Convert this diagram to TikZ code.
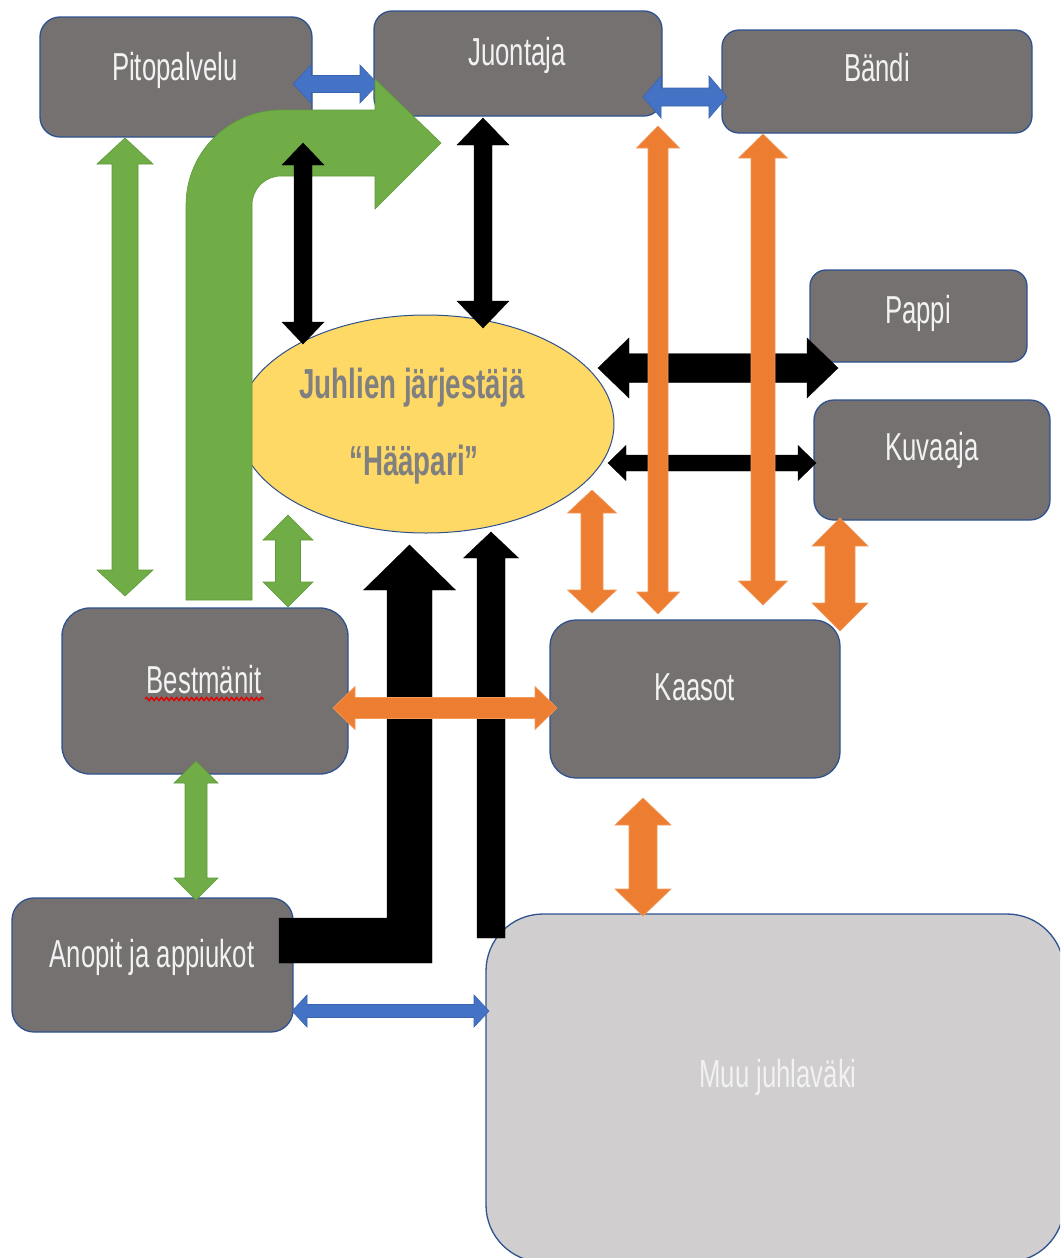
\documentclass[tikz,border=0pt]{standalone}
\usepackage{fontspec}
\newfontfamily\lblfont[FakeStretch=0.66]{Liberation Sans}
\usetikzlibrary{calc,shapes.geometric,decorations.pathmorphing}

\definecolor{boxfill}{HTML}{767171}
\definecolor{boxline}{HTML}{2F528F}
\definecolor{crowd}{HTML}{D0CECE}
\definecolor{hostfill}{HTML}{FFD966}
\definecolor{hosttext}{HTML}{808080}
\definecolor{labeltext}{HTML}{F2F2F2}
\definecolor{grn}{HTML}{70AD47}
\definecolor{grnedge}{HTML}{5E9A3A}
\definecolor{org}{HTML}{ED7D31}
\definecolor{orgedge}{HTML}{F09A5E}
\definecolor{blu}{HTML}{4472C4}
\definecolor{bluedge}{HTML}{3A64B0}

% double-headed block arrow: style, end A, end B, half shaft, half head, head length
\newcommand{\blockdbl}[6]{%
  \filldraw[#1] (#2)
    -- ($(#2)!#6pt!(#3)!#5pt!90:(#3)$)
    -- ($(#2)!#6pt!(#3)!#4pt!90:(#3)$)
    -- ($(#3)!#6pt!(#2)!#4pt!-90:(#2)$)
    -- ($(#3)!#6pt!(#2)!#5pt!-90:(#2)$)
    -- (#3)
    -- ($(#3)!#6pt!(#2)!#5pt!90:(#2)$)
    -- ($(#3)!#6pt!(#2)!#4pt!90:(#2)$)
    -- ($(#2)!#6pt!(#3)!#4pt!-90:(#3)$)
    -- ($(#2)!#6pt!(#3)!#5pt!-90:(#3)$)
    -- cycle;}
% single-headed block arrow: style, tail, tip, half shaft, half head, head length
\newcommand{\blocksgl}[6]{%
  \filldraw[#1] ($(#2)!#4pt!90:(#3)$)
    -- ($(#3)!#6pt!(#2)!#4pt!-90:(#2)$)
    -- ($(#3)!#6pt!(#2)!#5pt!-90:(#2)$)
    -- (#3)
    -- ($(#3)!#6pt!(#2)!#5pt!90:(#2)$)
    -- ($(#3)!#6pt!(#2)!#4pt!90:(#2)$)
    -- ($(#2)!#4pt!-90:(#3)$)
    -- cycle;}

\begin{document}
\begin{tikzpicture}[x=1pt,y=-1pt,
  box/.style={rectangle, draw=boxline, fill=boxfill, line width=1.3pt, inner sep=0pt},
  lbl/.style={anchor=base, inner sep=0pt, text=labeltext,
    font=\lblfont\fontsize{39pt}{46pt}\selectfont},
  hostlbl/.style={anchor=base, inner sep=0pt, text=hosttext,
    font=\lblfont\bfseries\fontsize{42pt}{50pt}\selectfont},
  bluearrow/.style={fill=blu, draw=bluedge, line width=0.6pt, line join=miter},
  greenarrow/.style={fill=grn, draw=grnedge, line width=0.6pt, line join=miter},
  blackarrow/.style={fill=black, draw=black, line width=0.4pt, line join=miter},
  orangearrow/.style={fill=org, draw=orgedge, line width=0.6pt, line join=miter}]

\useasboundingbox (0,0) rectangle (1060,1258);
\fill[white] (0,0) rectangle (1060,1258);
\clip (0,0) rectangle (1060,1258);

% boxes
\node[box, minimum width=272pt, minimum height=120pt, rounded corners=20pt] (pito) at (176,77) {};
\node[box, minimum width=288pt, minimum height=105pt, rounded corners=18pt] (juon) at (518,63.5) {};
\node[box, minimum width=310pt, minimum height=103pt, rounded corners=17pt] (band) at (877,81.5) {};
\node[box, minimum width=217pt, minimum height=92pt, rounded corners=16pt] (pappi) at (918.5,316) {};
\node[box, minimum width=236pt, minimum height=120pt, rounded corners=20pt] (kuva) at (932,460) {};
\node[box, minimum width=286pt, minimum height=166pt, rounded corners=28pt] (best) at (205,691) {};
\node[box, minimum width=290pt, minimum height=158pt, rounded corners=26pt] (kaas) at (695,699) {};
\node[box, minimum width=281pt, minimum height=134pt, rounded corners=22pt] (anop) at (152.5,965) {};
\node[box, fill=crowd, minimum width=578pt, minimum height=348pt, rounded corners=57pt] (muu) at (775,1088) {};
\node[ellipse, draw=boxline, fill=hostfill, line width=1pt, inner sep=0pt,
      minimum width=376pt, minimum height=218pt] (host) at (426,424) {};

% labels
\node[lbl] (pito-l) at (175,80) {Pitopalvelu};
\node[lbl] (juon-l) at (517,65) {Juontaja};
\node[lbl] (band-l) at (877,81) {Bändi};
\node[lbl] (pappi-l) at (918,323) {Pappi};
\node[lbl] (kuva-l) at (932,460) {Kuvaaja};
\node[lbl] (best-l) at (204,693) {Bestmänit};
\node[lbl] (kaas-l) at (695,700) {Kaasot};
\node[lbl] (anop-l) at (152,967) {Anopit ja appiukot};
\node[lbl] (muu-l) at (778,1087) {Muu juhlaväki};
\node[hostlbl] (host-l1) at (412,398) {Juhlien järjestäjä};
\node[hostlbl] (host-l2) at (414,475) {“Hääpari”};
% spell-check squiggle under Bestmänit
\draw[red!90!black, line width=1.4pt, decorate,
      decoration={snake, amplitude=1.6pt, segment length=5pt}]
  (145,699) -- (264,699);

% arrow end points
\coordinate (b1a) at (293,84);   \coordinate (b1b) at (378,84);
\coordinate (b2a) at (643,97);   \coordinate (b2b) at (727,97);
\coordinate (b3a) at (292,1011); \coordinate (b3b) at (489,1011);
\coordinate (g1a) at (125,138);  \coordinate (g1b) at (125,596);
\coordinate (g2a) at (288,515);  \coordinate (g2b) at (288,607);
\coordinate (g3a) at (196,761);  \coordinate (g3b) at (196,900);
\coordinate (gbtail) at (219,600); \coordinate (gbtip) at (441,143);
\coordinate (gbc) at (gbtail |- gbtip);
\coordinate (k1a) at (303,143);  \coordinate (k1b) at (303,344);
\coordinate (k2a) at (483,118);  \coordinate (k2b) at (483,328);
\coordinate (k3a) at (598,368);  \coordinate (k3b) at (838,368);
\coordinate (k4a) at (608,463);  \coordinate (k4b) at (816,463);
\coordinate (k5a) at (491,938);  \coordinate (k5b) at (491,532);
\coordinate (kbtail) at (279,940.5); \coordinate (kbtip) at (409.5,545);
\coordinate (o1a) at (333,708);  \coordinate (o1b) at (557,708);
\coordinate (o2a) at (592,490);  \coordinate (o2b) at (592,613);
\coordinate (o3a) at (658,126);  \coordinate (o3b) at (658,614);
\coordinate (o4a) at (763,134);  \coordinate (o4b) at (763,605);
\coordinate (o5a) at (840,518);  \coordinate (o5b) at (840,631);
\coordinate (o6a) at (643,798);  \coordinate (o6b) at (643,916);

% blue links
\blockdbl{bluearrow}{b1a}{b1b}{8.5}{19}{18}
\blockdbl{bluearrow}{b2a}{b2b}{9}{21}{18}
\blockdbl{bluearrow}{b3a}{b3b}{6.5}{16}{15}

% green links
\blockdbl{greenarrow}{g1a}{g1b}{13}{28}{26}
\blockdbl{greenarrow}{g2a}{g2b}{12.5}{25}{25}
\blockdbl{greenarrow}{g3a}{g3b}{11}{22}{22}
% bent green arrow from Bestmänit up and over to Juontaja
\filldraw[greenarrow] ($(gbtail)+(-33,0)$) -- ($(gbc)+(-33,62)$)
  arc[start angle=180, end angle=270, radius=95]
  -- ($(gbtip)+(-66,-33)$) -- ($(gbtip)+(-66,-64)$) -- (gbtip)
  -- ($(gbtip)+(-66,66)$) -- ($(gbtip)+(-66,33)$) -- ($(gbc)+(62,33)$)
  arc[start angle=270, end angle=180, radius=29]
  -- ($(gbtail)+(33,0)$) -- cycle;

% black links
\blockdbl{blackarrow}{k1a}{k1b}{9}{21}{22}
\blockdbl{blackarrow}{k2a}{k2b}{9}{26}{27}
\blockdbl{blackarrow}{k3a}{k3b}{14.5}{30}{31}
\blockdbl{blackarrow}{k4a}{k4b}{8}{17.5}{18}
\blocksgl{blackarrow}{k5a}{k5b}{14}{27.5}{26}
% bent black arrow from the in-laws up to the hosts
\filldraw[blackarrow] ($(kbtail)+(0,-22.5)$) -- ($(kbtail -| kbtip)+(-22.5,-22.5)$)
  -- ($(kbtip)+(-22.5,45)$) -- ($(kbtip)+(-46,45)$) -- (kbtip)
  -- ($(kbtip)+(46,45)$) -- ($(kbtip)+(22.5,45)$)
  -- ($(kbtail -| kbtip)+(22.5,22.5)$) -- ($(kbtail)+(0,22.5)$) -- cycle;

% orange links
\blockdbl{orangearrow}{o1a}{o1b}{10.5}{21.5}{22}
\blockdbl{orangearrow}{o2a}{o2b}{11}{24.5}{23}
\blockdbl{orangearrow}{o3a}{o3b}{10}{21.5}{22}
\blockdbl{orangearrow}{o4a}{o4b}{12}{24.5}{24}
\blockdbl{orangearrow}{o5a}{o5b}{15}{28}{28}
\blockdbl{orangearrow}{o6a}{o6b}{14}{28}{27}
\end{tikzpicture}
\end{document}
